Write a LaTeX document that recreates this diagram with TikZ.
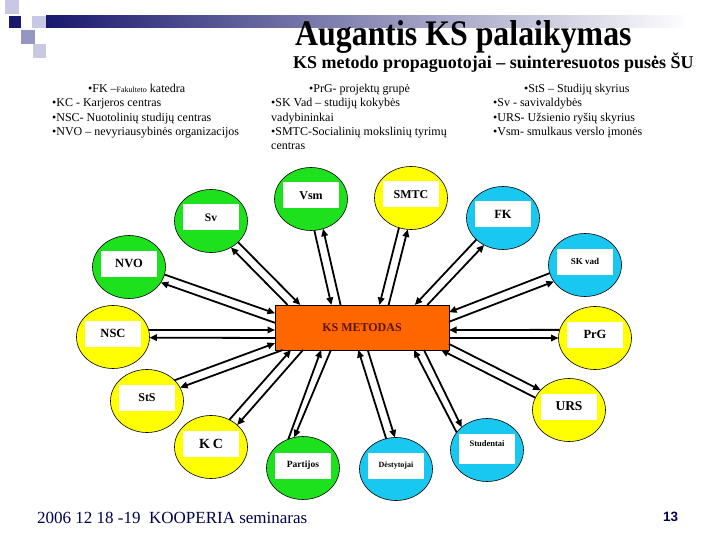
\documentclass[tikz,border=0pt]{standalone}
\usepackage{fontspec}
\setmainfont{Liberation Serif}
\newfontfamily\titlefont[FakeStretch=0.885]{Liberation Serif}
\newfontfamily\numfont{Liberation Sans}
\usetikzlibrary{shapes.geometric,arrows.meta,calc}
\definecolor{grn}{RGB}{30,225,30}
\definecolor{yel}{RGB}{255,255,0}
\definecolor{blu}{RGB}{25,200,240}
\definecolor{org}{RGB}{255,102,0}
\definecolor{maroon}{RGB}{90,20,0}
\definecolor{navy}{RGB}{25,25,110}
\definecolor{footnavy}{RGB}{0,0,80}
\definecolor{sqlight}{RGB}{200,200,228}
\definecolor{sqmid}{RGB}{150,150,195}
\tikzset{
  circ/.style={ellipse, draw=black, line width=0.6pt, minimum width=73pt, minimum height=63pt, inner sep=0pt, outer sep=0pt},
  box/.style={fill=white, minimum width=56pt, minimum height=26pt, inner sep=0pt, font=\bfseries\fontsize{12}{12}\selectfont},
  ln/.style={line width=1.8pt, black},
  arr/.style={ln, -{Triangle[length=7.5pt,width=6.5pt]}},
  txt/.style={anchor=base west, inner sep=0pt, font=\fontsize{12}{14}\selectfont},
}
\begin{document}
\begin{tikzpicture}[x=1pt,y=-1pt]
\useasboundingbox (0,0) rectangle (720,540);
\fill[white] (0,0) rectangle (720,540);
% decoration
\shade[left color=navy, right color=white] (46,16) rectangle (690,28);
\fill[sqlight] (5,0) rectangle (19,14);
\fill[navy] (9,16) rectangle (21,28);
\fill[sqlight] (32,16) rectangle (46,28);
\fill[sqmid] (21,30) rectangle (35,44);
\fill[sqlight] (33,44) rectangle (46,58);
% titles
\node[anchor=base west, inner sep=0pt, font=\titlefont\bfseries\fontsize{36}{36}\selectfont] (title) at (295,46) {Augantis KS palaikymas};
\node[anchor=base west, inner sep=0pt, font=\bfseries\fontsize{18}{18}\selectfont] (sub) at (293,69) {KS metodo propaguotojai – suinteresuotos pusės ŠU};
% legend columns
\node[txt] (l1) at (88,93) {•FK –{\fontsize{8}{8}\selectfont Fakulteto} katedra};
\node[txt] (l2) at (52,107) {•KC - Karjeros centras};
\node[txt] (l3) at (52,122) {•NSC- Nuotolinių studijų centras};
\node[txt] (l4) at (52,136) {•NVO – nevyriausybinės organizacijos};
\node[txt] (m1) at (309,93) {•PrG- projektų grupė};
\node[txt] (m2) at (271,107) {•SK Vad – studijų kokybės};
\node[txt] (m3) at (271,122) {vadybininkai};
\node[txt] (m4) at (271,136) {•SMTC-Socialinių mokslinių tyrimų};
\node[txt] (m5) at (271,150) {centras};
\node[txt] (r1) at (524,93) {•StS – Studijų skyrius};
\node[txt] (r2) at (493,107) {•Sv - savivaldybės};
\node[txt] (r3) at (493,122) {•URS- Užsienio ryšių skyrius};
\node[txt] (r4) at (493,136) {•Vsm- smulkaus verslo įmonės};
% central box
\node[draw=black, line width=0.6pt, fill=org, minimum width=174pt, minimum height=45pt, inner sep=0pt, outer sep=0pt, text=maroon, font=\bfseries\fontsize{12}{12}\selectfont] (ks) at (362,327.5) {KS METODAS};
% circles
\node[circ, fill=grn] (sv) at (211,221) {};
\node[box, font=\bfseries\fontsize{11.5}{11.5}\selectfont] (svl) at ($(sv)+(0,-3.5)$) {Sv};
\node[circ, fill=grn] (vsm) at (311,199) {};
\node[box] (vsml) at ($(vsm)+(0,-3.5)$) {Vsm};
\node[circ, fill=yel] (smtc) at (411,198) {};
\node[box] (smtcl) at ($(smtc)+(0,-3.5)$) {SMTC};
\node[circ, fill=blu] (fk) at (503,218) {};
\node[box, font=\bfseries\fontsize{12.5}{12.5}\selectfont] (fkl) at ($(fk)+(0,-3.5)$) {FK};
\node[circ, fill=grn] (nvo) at (129,267) {};
\node[box, font=\bfseries\fontsize{12.5}{12.5}\selectfont] (nvol) at ($(nvo)+(0,-3.5)$) {NVO};
\node[circ, fill=blu] (skv) at (585,265) {};
\node[box, font=\bfseries\fontsize{9}{9}\selectfont] (skvl) at ($(skv)+(0,-3.5)$) {SK vad};
\node[circ, fill=yel] (nsc) at (113,337) {};
\node[box, font=\bfseries\fontsize{12.5}{12.5}\selectfont] (nscl) at ($(nsc)+(0,-3.5)$) {NSC};
\node[circ, fill=yel] (prg) at (595,338) {};
\node[box, font=\bfseries\fontsize{12.5}{12.5}\selectfont] (prgl) at ($(prg)+(0,-3.5)$) {PrG};
\node[circ, fill=yel] (sts) at (147,401) {};
\node[box] (stsl) at ($(sts)+(0,-3.5)$) {StS};
\node[circ, fill=yel] (urs) at (569,410) {};
\node[box, font=\bfseries\fontsize{13.5}{13.5}\selectfont] (ursl) at ($(urs)+(0,-3.5)$) {URS};
\node[circ, fill=yel] (kc) at (211,447) {};
\node[box, font=\bfseries\fontsize{14}{14}\selectfont] (kcl) at ($(kc)+(0,-3.5)$) {K\hspace{3pt}C};
\node[circ, fill=grn] (par) at (303,468) {};
\node[box, font=\bfseries\fontsize{9.5}{9.5}\selectfont] (parl) at ($(par)+(0,-2.5)$) {Partijos};
\node[circ, fill=blu] (des) at (396,469) {};
\node[box, font=\bfseries\fontsize{8}{8}\selectfont] (desl) at ($(des)+(0,-3)$) {Dėstytojai};
\node[circ, fill=blu] (stu) at (487,450) {};
\node[box, minimum height=30pt] (stub) at ($(stu)+(0,-1)$) {};
\node[inner sep=0pt, font=\bfseries\fontsize{8.5}{8.5}\selectfont] (stut) at ($(stu)+(0,-6)$) {Studentai};
% connectors (a: to KS METODAS, b: to the circle)
\draw[arr] (nvo.-12.0) -- ($(ks.north west)+(0,8.3)$);
\draw[arr] ($(ks.north west)+(0,17.8)$) -- (nvo.-26.5);
\draw[arr] (nsc.11.1) -- ($(ks.north west)+(0,25)$);
\draw[arr] ($(ks.north west)+(0,33)$) -- (nsc.-1.6);
\draw[arr] (sts.37.0) -- ($(ks.north west)+(0,38.2)$);
\draw[arr] ($(ks.north west)+(7.7,45)$) -- (sts.22.9);
\draw[arr] (kc.56.2) -- ($(ks.north west)+(16,45)$);
\draw[arr] ($(ks.north west)+(28,45)$) -- (kc.40.7);
\draw[arr] (par.117.0) -- ($(ks.north west)+(46.1,45)$);
\draw[arr] ($(ks.north west)+(55.9,45)$) -- (par.106.3);
\draw[arr] (des.108.6) -- ($(ks.north west)+(83.3,45)$);
\draw[arr] ($(ks.north west)+(92.7,45)$) -- (des.92.9);
\draw[arr] (stu.150.2) -- ($(ks.north west)+(139,45)$);
\draw[arr] ($(ks.north west)+(149,45)$) -- (stu.138.4);
\draw[arr] (urs.160.4) -- ($(ks.north west)+(166.1,45)$);
\draw[arr] ($(ks.north west)+(174,38.9)$) -- (urs.145.7);
\draw[arr] (prg.167.2) -- ($(ks.north west)+(174,25)$);
\draw[arr] ($(ks.north west)+(174,33)$) -- (prg.180);
\draw[arr] (skv.193.6) -- ($(ks.north west)+(174,7.2)$);
\draw[arr] ($(ks.north west)+(174,16.8)$) -- (skv.208.1);
\draw[arr] (fk.-141.0) -- ($(ks.north west)+(139.8,0)$);
\draw[arr] ($(ks.north west)+(152.3,0)$) -- (fk.-125.6);
\draw[arr] (smtc.-112.3) -- ($(ks.north west)+(104.4,0)$);
\draw[arr] ($(ks.north west)+(113.6,0)$) -- (smtc.-96.0);
\draw[arr] (vsm.-84.9) -- ($(ks.north west)+(56.4,0)$);
\draw[arr] ($(ks.north west)+(65.6,0)$) -- (vsm.-68.6);
\draw[arr] (sv.-38.0) -- ($(ks.north west)+(25.3,0)$);
\draw[arr] ($(ks.north west)+(12.7,0)$) -- (sv.-53.3);
% footer
\node[anchor=base west, inner sep=0pt, text=footnavy, font=\fontsize{17}{17}\selectfont] (foot) at (37,523) {2006 12 18 -19\ \ KOOPERIA seminaras};
\node[anchor=base west, inner sep=0pt, text=footnavy, font=\numfont\bfseries\fontsize{13.5}{13.5}\selectfont] (pg) at (663,521) {13};
\end{tikzpicture}
\end{document}
